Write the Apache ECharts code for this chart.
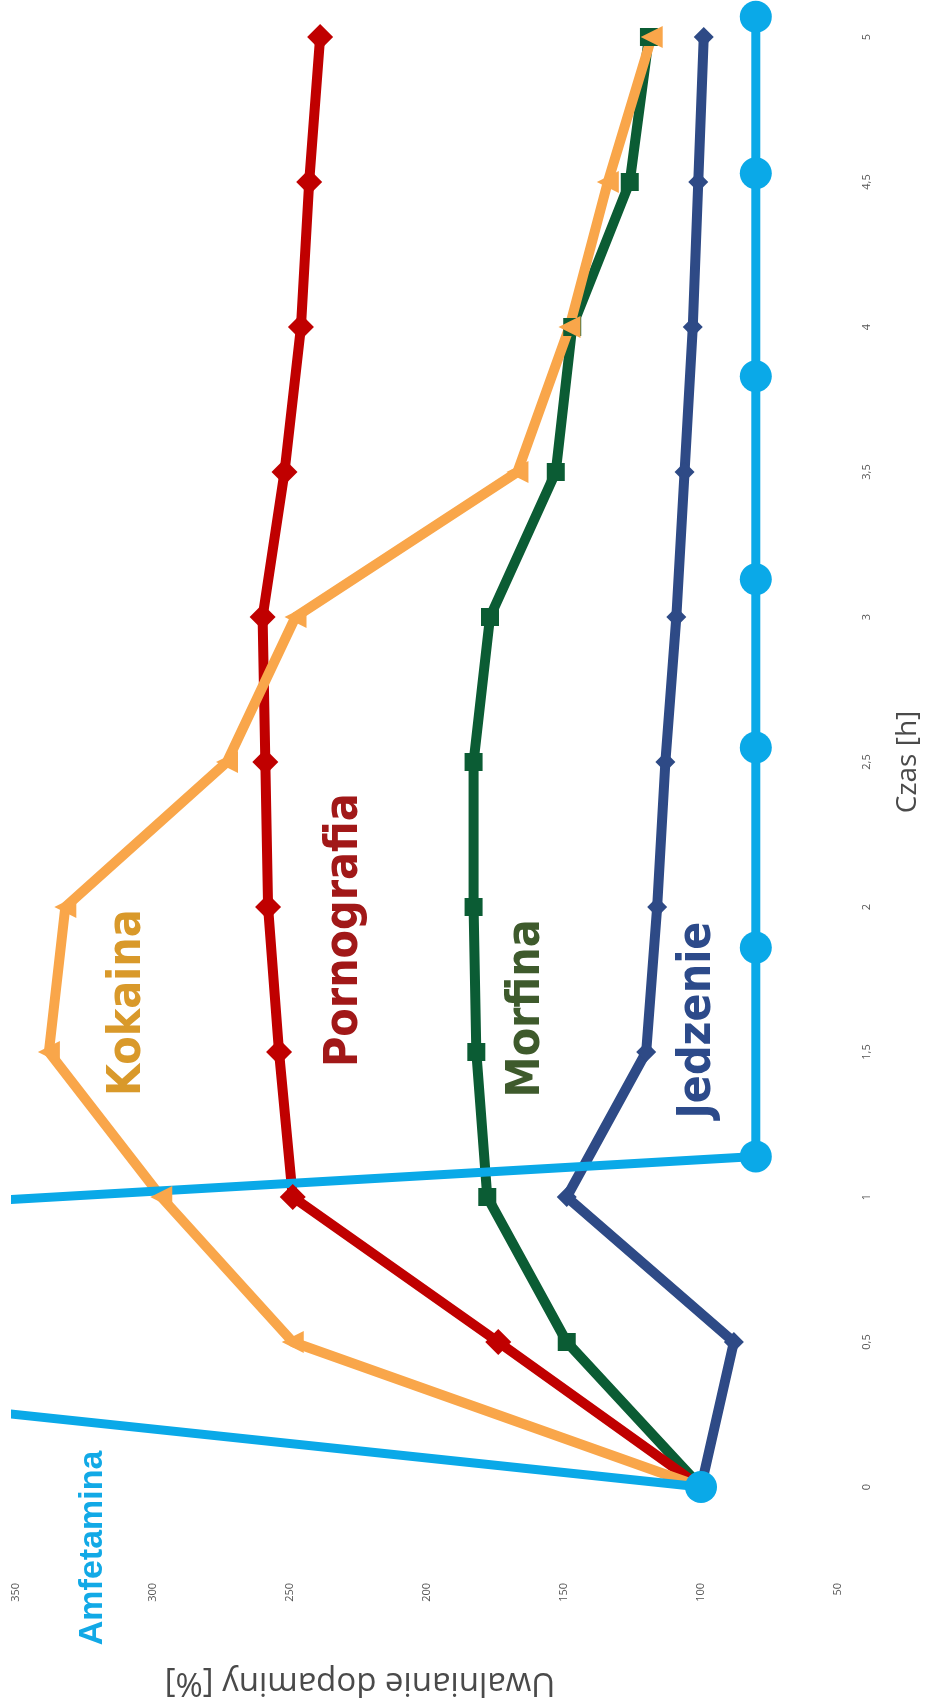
<!DOCTYPE html>
<html>
<head>
<meta charset="utf-8">
<script src="https://cdn.jsdelivr.net/npm/echarts@6/dist/echarts.min.js"></script>
<style>
html,body{margin:0;padding:0;background:#fff;}
#chart{width:933px;height:1703px;}
</style>
</head>
<body>
<div id="chart"></div>
<script>
// ---- data (time in hours, dopamine release in %) ----
const timeH = [0, 0.5, 1, 1.5, 2, 2.5, 3, 3.5, 4, 4.5, 5];
const jedzenie    = [100, 88, 149, 120, 116, 113, 109, 106, 103, 101, 99];
const morfina     = [100, 149, 178, 182, 183, 183, 177, 153, 147, 126, 119];
const pornografia = [100, 174, 249, 254, 258, 259, 260, 252, 246, 243, 239];
const kokaina     = [100, 249, 297, 338, 332, 273, 248, 167, 148, 134, 118];
const amfetaminaTime = [0, 0.73, 1.14, 1.86, 2.55, 3.13, 3.83, 4.53, 5.07];
const amfetamina     = [100, 830, 80, 80, 80, 80, 80, 80, 80];
const seriesNames = ['Jedzenie', 'Morfina', 'Pornografia', 'Kokaina', 'Amfetamina'];
// annotation anchors in data units [dopamine %, time h]
const labelNames = ['Kokaina', 'Pornografia', 'Morfina', 'Jedzenie', 'Amfetamina'];
const labelValue = [309, 230, 163.5, 101, 322];
const labelTime  = [1.67, 1.92, 1.65, 1.61, -0.21];

const pairs = (vals, ts) => vals.map((v, i) => [v, ts[i]]);

const chart = echarts.init(document.getElementById('chart'), null, {renderer: 'canvas'});

const lineColors = {
  Jedzenie: '#2E4A86', Morfina: '#0B5C34', Pornografia: '#C00000',
  Kokaina: '#F9A64A', Amfetamina: '#0AA9E8'
};
const textColors = {
  Jedzenie: '#2C4A8A', Morfina: '#3E5A2C', Pornografia: '#A11818',
  Kokaina: '#D9992A', Amfetamina: '#12A9E6'
};
const symbols = {
  Jedzenie: ['diamond', 20, 0], Morfina: ['rect', 18, 0], Pornografia: ['diamond', 26, 0],
  Kokaina: ['triangle', 22, 90], Amfetamina: ['circle', 32, 0]
};
const dataMap = {
  Jedzenie: pairs(jedzenie, timeH), Morfina: pairs(morfina, timeH),
  Pornografia: pairs(pornografia, timeH), Kokaina: pairs(kokaina, timeH),
  Amfetamina: pairs(amfetamina, amfetaminaTime)
};

const fmt = v => String(v).replace('.', ',');

const option = {
  animation: false,
  backgroundColor: '#ffffff',
  grid: {left: 16, right: 95, top: 37, bottom: 216, containLabel: false},
  xAxis: {
    type: 'value', inverse: true, min: 50, max: 350, interval: 50,
    position: 'bottom',
    axisLine: {show: false}, axisTick: {show: false}, splitLine: {show: false},
    axisLabel: {rotate: 90, margin: 96, fontSize: 11, color: '#555555', fontFamily: 'Open Sans',
      formatter: fmt}
  },
  yAxis: {
    type: 'value', min: 0, max: 5, interval: 0.5, position: 'right',
    axisLine: {show: false}, axisTick: {show: false}, splitLine: {show: false},
    axisLabel: {rotate: 90, margin: 23, fontSize: 11, color: '#555555', fontFamily: 'Open Sans',
      formatter: fmt},
    name: 'Czas [h]', nameLocation: 'middle', nameRotate: 90, nameGap: 56,
    nameTextStyle: {fontSize: 28, color: '#4a4a4a', fontFamily: 'Open Sans'}
  },
  series: seriesNames.map(n => ({
    name: n, type: 'line', data: dataMap[n], clip: false,
    symbol: symbols[n][0], symbolSize: symbols[n][1], symbolRotate: symbols[n][2],
    showAllSymbol: true,
    lineStyle: {color: lineColors[n], width: n === 'Amfetamina' ? 9 : 10},
    itemStyle: {color: lineColors[n], borderWidth: 0},
    emphasis: {disabled: true}
  }))
};
chart.setOption(option);

const graphics = [{
  type: 'text', x: 360, y: 1682, rotation: Math.PI,
  style: {text: 'Uwalnianie dopaminy [%]', fill: '#4a4a4a', fontSize: 33,
    fontFamily: 'Open Sans', align: 'center', verticalAlign: 'middle'}
}];
labelNames.forEach((name, i) => {
  const p = chart.convertToPixel({gridIndex: 0}, [labelValue[i], labelTime[i]]);
  const isAmf = name === 'Amfetamina';
  graphics.push({
    type: 'text', x: p[0], y: p[1], rotation: Math.PI / 2, z: 100,
    style: {
      text: name, fill: textColors[name],
      fontSize: isAmf ? 34 : 46, fontWeight: 'bold',
      fontFamily: isAmf ? 'Liberation Sans' : '"DejaVu Sans Condensed", "Liberation Sans Narrow", sans-serif',
      align: 'center', verticalAlign: 'middle'
    }
  });
});
chart.setOption({graphic: graphics});
</script>
</body>
</html>
